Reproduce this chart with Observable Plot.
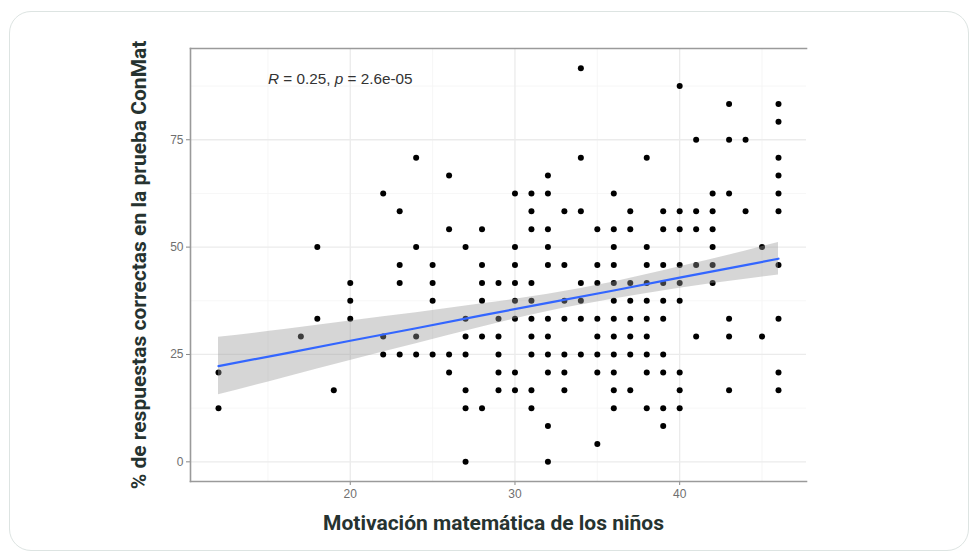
<!DOCTYPE html>
<html>
<head>
<meta charset="utf-8">
<script src="https://cdn.jsdelivr.net/npm/d3@7"></script>
<script src="https://cdn.jsdelivr.net/npm/@observablehq/plot@0.6"></script>
<style>
  html, body { margin: 0; padding: 0; background: #ffffff; }
  #wrap { position: relative; width: 978px; height: 553px; overflow: hidden; }
  #card { position: absolute; left: 9px; top: 11px; width: 958px; height: 538px;
          border: 1.5px solid #dde4e2; border-radius: 22px; background: #ffffff; }
  #chart { position: absolute; left: 0; top: 0; }
</style>
</head>
<body>
<div id="wrap"><div id="card"></div><div id="chart"></div></div>
<script>
// Motivación matemática (x) y % de respuestas correctas (y)
const motivacion = [
  12, 12,
  17,
  18, 18,
  19,
  20, 20, 20,
  22, 22, 22,
  23, 23, 23, 23,
  24, 24, 24, 24,
  25, 25, 25, 25,
  26, 26, 26, 26,
  27, 27, 27, 27, 27, 27, 27,
  28, 28, 28, 28, 28, 28,
  29, 29, 29, 29, 29, 29,
  30, 30, 30, 30, 30, 30, 30, 30,
  31, 31, 31, 31, 31, 31, 31, 31, 31, 31,
  32, 32, 32, 32, 32, 32, 32, 32, 32, 32, 32,
  33, 33, 33, 33, 33, 33, 33,
  34, 34, 34, 34, 34, 34, 34,
  35, 35, 35, 35, 35, 35, 35, 35,
  36, 36, 36, 36, 36, 36, 36, 36, 36, 36, 36, 36,
  37, 37, 37, 37, 37, 37, 37, 37,
  38, 38, 38, 38, 38, 38, 38, 38, 38, 38,
  39, 39, 39, 39, 39, 39, 39, 39, 39, 39,
  40, 40, 40, 40, 40, 40, 40, 40, 40,
  41, 41, 41, 41, 41,
  42, 42, 42, 42, 42, 42,
  43, 43, 43, 43, 43, 43,
  44, 44,
  45, 45,
  46, 46, 46, 46, 46, 46, 46, 46, 46, 46
];
const aciertos = [
  20.83, 12.5,
  29.17,
  50, 33.33,
  16.67,
  41.67, 37.5, 33.33,
  62.5, 29.17, 25,
  58.33, 45.83, 41.67, 25,
  70.83, 50, 29.17, 25,
  45.83, 41.67, 37.5, 25,
  66.67, 54.17, 25, 20.83,
  50, 33.33, 29.17, 25, 16.67, 12.5, 0,
  54.17, 45.83, 41.67, 37.5, 29.17, 12.5,
  41.67, 33.33, 29.17, 25, 20.83, 16.67,
  62.5, 50, 45.83, 41.67, 37.5, 33.33, 20.83, 16.67,
  62.5, 58.33, 54.17, 41.67, 37.5, 33.33, 29.17, 25, 16.67, 12.5,
  66.67, 62.5, 54.17, 50, 45.83, 33.33, 29.17, 25, 20.83, 8.33, 0,
  58.33, 45.83, 37.5, 33.33, 25, 20.83, 16.67,
  91.67, 70.83, 58.33, 41.67, 37.5, 33.33, 25,
  54.17, 45.83, 41.67, 33.33, 29.17, 25, 20.83, 4.17,
  62.5, 54.17, 50, 45.83, 41.67, 37.5, 33.33, 29.17, 25, 20.83, 16.67, 12.5,
  58.33, 54.17, 41.67, 37.5, 33.33, 29.17, 25, 16.67,
  70.83, 50, 45.83, 41.67, 37.5, 33.33, 29.17, 25, 20.83, 12.5,
  58.33, 54.17, 45.83, 41.67, 37.5, 33.33, 25, 20.83, 12.5, 8.33,
  87.5, 58.33, 54.17, 45.83, 41.67, 37.5, 20.83, 16.67, 12.5,
  75, 58.33, 54.17, 45.83, 29.17,
  62.5, 58.33, 54.17, 50, 45.83, 41.67,
  83.33, 75, 62.5, 33.33, 29.17, 16.67,
  75, 58.33,
  50, 29.17,
  83.33, 79.17, 70.83, 66.67, 62.5, 58.33, 45.83, 33.33, 20.83, 16.67
];

// Recta de regresión e intervalo de confianza
const ajusteX    = [12, 16, 20, 24, 28, 32, 36, 40, 44, 46];
const ajusteY    = [22.3, 25.2, 28.2, 31.1, 34.1, 37.0, 39.9, 42.9, 45.8, 47.3];
const ajusteBajo = [15.6, 19.6, 23.6, 27.5, 31.4, 35.0, 37.9, 40.4, 42.5, 43.5];
const ajusteAlto = [29.0, 30.8, 32.8, 34.7, 36.8, 39.0, 41.9, 45.4, 49.1, 51.1];

// Ejes
const ticksX = [20, 30, 40];
const minorX = [15, 25, 35, 45];
const ticksY = [0, 25, 50, 75];
const minorY = [12.5, 37.5, 62.5, 87.5];

const etiquetaCor = "R = 0.25, p = 2.6e-05";
const tituloX = "Motivación matemática de los niños";
const tituloY = "% de respuestas correctas en la prueba ConMat";

const puntos = motivacion.map((x, i) => ({x, y: aciertos[i]}));
const ajuste = ajusteX.map((x, i) => ({x, y: ajusteY[i], lo: ajusteBajo[i], hi: ajusteAlto[i]}));

const tickFont = "'Liberation Sans', Arial, sans-serif";
const titleFont = "Roboto, 'Noto Sans', sans-serif";

const chart = Plot.plot({
  width: 978,
  height: 553,
  marginLeft: 190,
  marginRight: 172,
  marginTop: 48,
  marginBottom: 72,
  style: {background: "transparent", fontFamily: tickFont, overflow: "visible"},
  x: {domain: [10.3, 47.7]},
  y: {domain: [-4.58, 96.25]},
  marks: [
    Plot.gridX(minorX, {stroke: "#f4f4f4", strokeOpacity: 1, strokeWidth: 0.8}),
    Plot.gridY(minorY, {stroke: "#f4f4f4", strokeOpacity: 1, strokeWidth: 0.8}),
    Plot.gridX(ticksX, {stroke: "#ebebeb", strokeOpacity: 1, strokeWidth: 1.3}),
    Plot.gridY(ticksY, {stroke: "#ebebeb", strokeOpacity: 1, strokeWidth: 1.3}),
    Plot.axisX(ticksX, {label: null, tickSize: 4, tickPadding: 4, fontSize: 12, color: "#6f6f6f", stroke: "#888888", fontFamily: tickFont}),
    Plot.axisY(ticksY, {label: null, tickSize: 4, tickPadding: 3, fontSize: 12, color: "#6f6f6f", stroke: "#888888", fontFamily: tickFont}),
    Plot.frame({anchor: "top", stroke: "#9a9a9a", strokeWidth: 1.6}),
    Plot.frame({anchor: "bottom", stroke: "#9a9a9a", strokeWidth: 1.6}),
    Plot.frame({anchor: "left", stroke: "#9a9a9a", strokeWidth: 1.6}),
    Plot.dot(puntos, {x: "x", y: "y", r: 3, fill: "#000000", stroke: "none"}),
    Plot.areaY(ajuste, {x: "x", y1: "lo", y2: "hi", fill: "#999999", fillOpacity: 0.4, curve: "monotone-x"}),
    Plot.line(ajuste, {x: "x", y: "y", stroke: "#3366FF", strokeWidth: 2.2}),
    Plot.text([etiquetaCor], {x: 15, y: 89.2, text: d => d, textAnchor: "start", fontSize: 15.3, fill: "#333333", fontFamily: tickFont}),
    Plot.text([tituloX], {frameAnchor: "bottom", dy: 42, dx: -5, text: d => d, textAnchor: "middle", lineAnchor: "middle", fontSize: 21, fontWeight: 700, fill: "#263330", fontFamily: titleFont}),
    Plot.text([tituloY], {frameAnchor: "left", dx: -51, rotate: -90, text: d => d, textAnchor: "middle", lineAnchor: "middle", fontSize: 21, fontWeight: 700, fill: "#263330", fontFamily: titleFont})
  ]
});

// Italic R and p in the correlation label
d3.select(chart).selectAll("text").filter(function() { return this.textContent === etiquetaCor; })
  .each(function() {
    const t = d3.select(this);
    t.text(null);
    t.append("tspan").attr("font-style", "italic").text("R");
    t.append("tspan").text(" = 0.25, ");
    t.append("tspan").attr("font-style", "italic").text("p");
    t.append("tspan").text(" = 2.6e-05");
  });

document.getElementById("chart").appendChild(chart);
</script>
</body>
</html>
